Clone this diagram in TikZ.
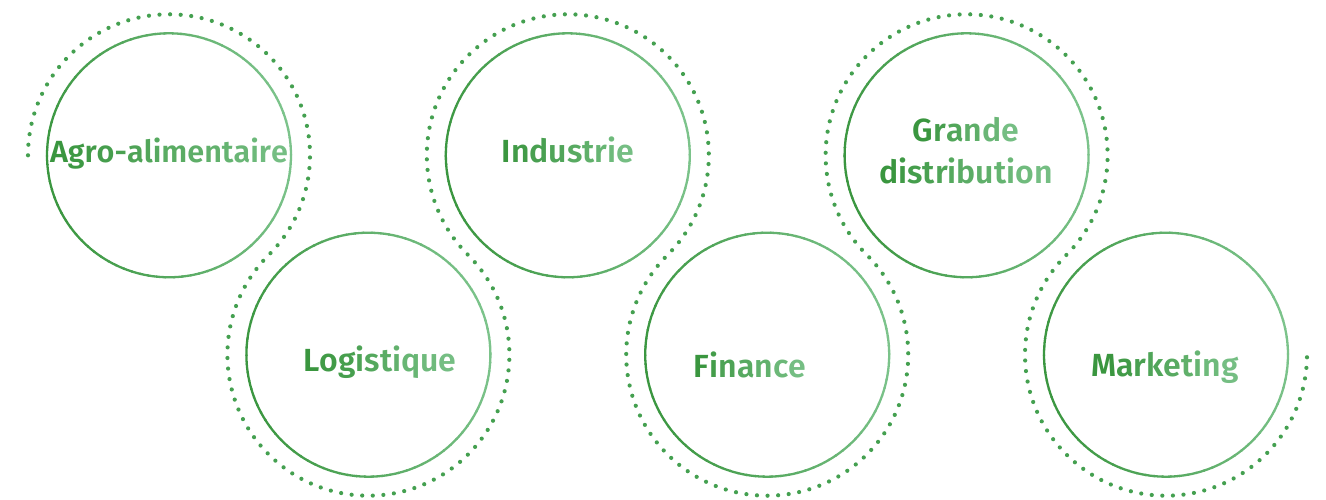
\documentclass[tikz,border=0pt]{standalone}
\usepackage{fontspec}
\setmainfont{Fira Sans}[UprightFont=* SemiBold]
\definecolor{dkg}{HTML}{3A963F}
\definecolor{ltg}{HTML}{7CC38B}
\definecolor{dotg}{HTML}{44A050}
\newcount\gtcnt
\def\gtend{\gtendmark}
\newcommand\gtext[2]{\gtcnt=0\relax\def\gttot{#1}\gtloop#2\gtend}
\def\gtloop#1{\ifx#1\gtend\else\gtone{#1}\expandafter\gtloop\fi}
\def\gtone#1{\pgfmathtruncatemacro\gtp{100-90*\gtcnt/(\gttot-1)}\textcolor{dkg!\gtp!ltg}{#1}\advance\gtcnt by 1\relax}
\newcommand\gcircle[1]{%
  \foreach \a in {0,4,...,356}{%
    \pgfmathtruncatemacro\p{50-50*cos(\a+2-10)}%
    \draw[color=dkg!\p!ltg, line width=2.3pt] (#1) ++(\a:122) arc[start angle=\a, end angle=\a+4.6, radius=122];
  }}
\tikzset{
  ring/.style={circle, minimum size=244pt, inner sep=0pt},
  lbl/.style={anchor=base, inner sep=0pt, font=\fontsize{32}{38}\selectfont},
  dots/.style={dotg, line width=4.2pt, line cap=round, dash pattern=on 0pt off 10.6pt}
}
\begin{document}
\begin{tikzpicture}[x=1pt,y=1pt]
\useasboundingbox (0,0) rectangle (1326,500);
\node[ring] (c1) at (169,344.7) {};
\node[ring] (c2) at (368.4,145.3) {};
\node[ring] (c3) at (567.8,344.7) {};
\node[ring] (c4) at (767.2,145.3) {};
\node[ring] (c5) at (966.6,344.7) {};
\node[ring] (c6) at (1166,145.3) {};
\foreach \c in {c1,c2,c3,c4,c5,c6}{\gcircle{\c}}
\draw[dots] (c1.center) ++(180:141) arc[start angle=180, end angle=-45, radius=141]
  arc[start angle=135, end angle=405, radius=141]
  arc[start angle=225, end angle=-45, radius=141]
  arc[start angle=135, end angle=405, radius=141]
  arc[start angle=225, end angle=-45, radius=141]
  arc[start angle=135, end angle=360, radius=141];
\node[lbl, font=\fontsize{30.6}{36}\selectfont] (t1) at (169,337) {\gtext{16}{Agro-alimentaire}};
\node[lbl] (t3) at (568,337) {\gtext{9}{Industrie}};
\node[lbl] (t5a) at (966,358) {\gtext{6}{Grande}};
\node[lbl] (t5b) at (966,316) {\gtext{12}{distribution}};
\node[lbl] (t2) at (380,128) {\gtext{10}{Logistique}};
\node[lbl] (t4) at (750,122) {\gtext{7}{Finance}};
\node[lbl] (t6) at (1165,123) {\gtext{9}{Marketing}};
\end{tikzpicture}
\end{document}
